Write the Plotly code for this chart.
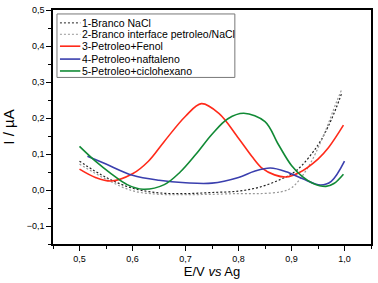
import plotly.graph_objects as go

# Data
x1 = [0.50, 0.55, 0.60, 0.65, 0.70, 0.75, 0.80, 0.84, 0.88, 0.91, 0.95, 0.975, 0.995]
y1 = [0.080, 0.035, 0.005, -0.008, -0.010, -0.007, -0.003, 0.008, 0.030, 0.055, 0.125, 0.195, 0.270]

x2 = [0.50, 0.55, 0.60, 0.65, 0.70, 0.75, 0.80, 0.84, 0.88, 0.90, 0.93, 0.96, 0.985, 0.995]
y2 = [0.072, 0.030, -0.002, -0.012, -0.013, -0.012, -0.010, -0.010, -0.005, 0.006, 0.060, 0.150, 0.245, 0.280]

x3 = [0.50, 0.53, 0.56, 0.60, 0.63, 0.66, 0.70, 0.73, 0.763, 0.80, 0.825, 0.845, 0.868, 0.89, 0.913, 0.95, 0.97, 0.998]
y3 = [0.058, 0.035, 0.025, 0.045, 0.080, 0.135, 0.205, 0.240, 0.213, 0.144, 0.094, 0.060, 0.042, 0.036, 0.047, 0.086, 0.118, 0.180]

x4 = [0.515, 0.55, 0.60, 0.65, 0.70, 0.75, 0.80, 0.83, 0.86, 0.89, 0.92, 0.955, 0.975, 1.00]
y4 = [0.094, 0.072, 0.041, 0.027, 0.020, 0.019, 0.035, 0.052, 0.061, 0.051, 0.032, 0.014, 0.024, 0.080]

x5 = [0.50, 0.53, 0.56, 0.59, 0.62, 0.66, 0.69, 0.72, 0.75, 0.78, 0.81, 0.85, 0.875, 0.90, 0.92, 0.94, 0.965, 0.98, 0.998]
y5 = [0.121, 0.080, 0.045, 0.015, 0.002, 0.015, 0.050, 0.100, 0.155, 0.198, 0.213, 0.190, 0.127, 0.068, 0.038, 0.019, 0.010, 0.018, 0.044]

names = ["1-Branco NaCl", "2-Branco interface petroleo/NaCl", "3-Petroleo+Fenol",
         "4-Petroleo+naftaleno", "5-Petroleo+ciclohexano"]
colors = ["#222222", "#999999", "#ff2a1a", "#3a3fae", "#118a35"]
dashes = ["2px,2px", "2px,2px", "solid", "solid", "solid"]
widths = [1.2, 1.2, 1.6, 1.6, 1.6]

xs = [x1, x2, x3, x4, x5]
ys = [y1, y2, y3, y4, y5]

fig = go.Figure()
for i in range(5):
    fig.add_trace(go.Scatter(x=xs[i], y=ys[i], name=names[i], mode="lines", line_shape="spline",
                             line=dict(color=colors[i], width=widths[i], dash=dashes[i]),
                             showlegend=False))

# Compact legend drawn in paper coordinates
W, H, L, T = 320.0, 236.0, 53.0, 8.0
def px_x(p):
    return (p - L) / W
def px_y(p):
    return 1 - (p - T) / H

fig.add_shape(type="rect", xref="paper", yref="paper",
              x0=px_x(57), x1=px_x(236), y0=px_y(76), y1=px_y(12),
              line=dict(color="#777777", width=1), fillcolor="white", layer="above")
rows = [21, 32.5, 44.5, 57.5, 69.5]
for i in range(5):
    fig.add_shape(type="line", xref="paper", yref="paper",
                  x0=px_x(60), x1=px_x(80.5), y0=px_y(rows[i]), y1=px_y(rows[i]),
                  line=dict(color=colors[i], width=widths[i] if i > 1 else 1, dash=dashes[i]),
                  layer="above")
    fig.add_annotation(xref="paper", yref="paper", x=px_x(80.5), y=px_y(rows[i]),
                       xanchor="left", yanchor="middle", showarrow=False, text=names[i],
                       font=dict(family="Liberation Sans, Arial", size=10.5, color="black"))

axis_common = dict(showline=True, linecolor="black", linewidth=1.5, mirror=True,
                   ticks="outside", ticklen=5, tickwidth=1, tickcolor="black",
                   showgrid=False, zeroline=False,
                   tickfont=dict(family="Liberation Sans, Arial", size=9, color="black"))

fig.update_layout(
    width=378, height=283,
    margin=dict(l=53, r=5, t=8, b=39),
    paper_bgcolor="white", plot_bgcolor="white",
    separators=",.",
    showlegend=False,
    xaxis=dict(range=[0.45, 1.05], tickvals=[0.5, 0.6, 0.7, 0.8, 0.9, 1.0], tickformat=".1f",
               minor=dict(dtick=0.05, tick0=0.45, ticks="outside", ticklen=3, tickcolor="black"),
               title=dict(text="E/V <i>vs</i> Ag", font=dict(family="Liberation Sans, Arial", size=13, color="black"),
                          standoff=2),
               **axis_common),
    yaxis=dict(range=[-0.15, 0.5], tickvals=[-0.1, 0.0, 0.1, 0.2, 0.3, 0.4, 0.5], tickformat=".1f",
               minor=dict(dtick=0.05, tick0=0, ticks="outside", ticklen=3, tickcolor="black"),
               title=dict(text="I / µA", font=dict(family="Liberation Sans, Arial", size=15, color="black"),
                          standoff=8),
               **axis_common),
)

fig.write_html("out.html", config={"displayModeBar": False},
               post_script="document.body.style.margin='0';")
